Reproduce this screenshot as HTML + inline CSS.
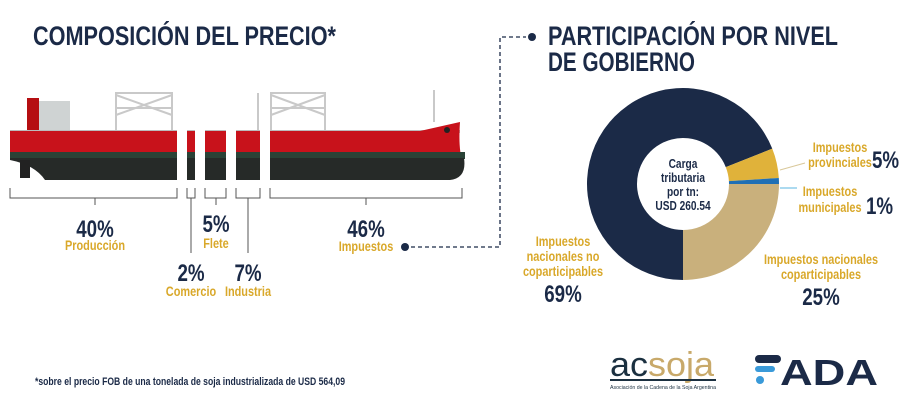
<!DOCTYPE html>
<html><head><meta charset="utf-8">
<style>
html,body{margin:0;padding:0;background:#fff;}
body{width:918px;height:400px;overflow:hidden;position:relative;font-family:"Liberation Sans",sans-serif;}
svg{position:absolute;left:0;top:0;}
.t{font-family:"Liberation Sans",sans-serif;font-weight:bold;}
</style></head>
<body>
<svg width="918" height="400" viewBox="0 0 918 400">
<defs>
<clipPath id="shipclip"><rect x="0" y="0" width="177" height="400"/><rect x="187" y="0" width="8" height="400"/><rect x="205" y="0" width="21" height="400"/><rect x="236" y="0" width="24" height="400"/><rect x="270" y="0" width="200" height="400"/></clipPath>
</defs>
<text class="t fix" x="33" y="45" font-size="27" fill="#1b2a47" textLength="303" lengthAdjust="spacingAndGlyphs">COMPOSICIÓN DEL PRECIO*</text>
<text class="t fix" x="548" y="45" font-size="27" fill="#1b2a47" textLength="290" lengthAdjust="spacingAndGlyphs">PARTICIPACIÓN POR NIVEL</text>
<text class="t fix" x="548" y="71" font-size="27" fill="#1b2a47" textLength="147" lengthAdjust="spacingAndGlyphs">DE GOBIERNO</text>

<g clip-path="url(#shipclip)">
 <rect x="10" y="130" width="450" height="3" fill="#bbb"/>
 <rect x="27" y="98" width="12" height="32" fill="#b50f12"/>
 <rect x="39" y="101" width="31" height="29" fill="#cfd3d3"/>
 <g stroke="#c9c9c9" stroke-width="2" fill="none">
  <path d="M116 130V93H172V130M116 95L172 115M172 95L116 115M116 108H172"/>
  <path d="M271 130V93H325V130M271 95L325 115M325 95L271 115M271 108H325"/>
  <path d="M258 130V93"/><path d="M434 122V90"/>
 </g>
 <path d="M10 131H420L460 122Q458 150 463 163L463 158H10Z" fill="#c8121b"/>
 <rect x="10" y="152" width="455" height="7" fill="#2a4236"/>
 <path d="M10 158H464Q467 178 450 180H45Q35 165 10 160Z" fill="#262a28"/>
 <rect x="20" y="160" width="10" height="18" fill="#222"/>
 <circle cx="447" cy="130" r="3" fill="#222"/>
</g>

<g stroke="#555" stroke-width="1" fill="none">
 <path d="M10 188V198H177V188M95 198V205"/>
 <path d="M187 188V198H195V188M191 198V253"/>
 <path d="M205 188V198H226V188M216 198V205"/>
 <path d="M236 188V198H260V188M248 198V253"/>
 <path d="M270 188V198H462V188M366 198V205"/>
</g>

<g class="t" text-anchor="middle">
 <text class="sq" x="95" y="237" font-size="24" fill="#1b2a47">40%</text>
 <text class="sq" x="95" y="250" font-size="14" fill="#d9a82a">Producción</text>
 <text class="sq" x="216" y="232" font-size="24" fill="#1b2a47">5%</text>
 <text class="sq" x="216" y="248" font-size="14" fill="#d9a82a">Flete</text>
 <text class="sq" x="191" y="281" font-size="24" fill="#1b2a47">2%</text>
 <text class="sq" x="191" y="296" font-size="14" fill="#d9a82a">Comercio</text>
 <text class="sq" x="248" y="281" font-size="24" fill="#1b2a47">7%</text>
 <text class="sq" x="248" y="296" font-size="14" fill="#d9a82a">Industria</text>
 <text class="sq" x="366" y="237" font-size="24" fill="#1b2a47">46%</text>
 <text class="sq" x="366" y="251" font-size="14" fill="#d9a82a">Impuestos</text>
</g>

<g>
 <circle cx="405" cy="247" r="4" fill="#1b2a47"/>
 <path d="M411 247H500V37H526" stroke="#1b2a47" stroke-width="1.3" stroke-dasharray="4,3" fill="none"/>
 <circle cx="532" cy="37" r="4" fill="#1b2a47"/>
</g>

<g id="donut"></g>

<g class="t">
 <text class="sq" x="683" y="168" font-size="13" text-anchor="middle" fill="#1b2a47">Carga</text>
 <text class="sq" x="683" y="182" font-size="13" text-anchor="middle" fill="#1b2a47">tributaria</text>
 <text class="sq" x="683" y="196" font-size="13" text-anchor="middle" fill="#1b2a47">por tn:</text>
 <text class="sq" x="683" y="210" font-size="13" text-anchor="middle" fill="#1b2a47">USD 260.54</text>
 <path d="M780 170L805 163" stroke="#d9c89a" stroke-width="1"/>
 <text class="sq" x="840" y="152" font-size="14" text-anchor="middle" fill="#d9a82a">Impuestos</text>
 <text class="sq" x="840" y="167" font-size="14" text-anchor="middle" fill="#d9a82a">provinciales</text>
 <text class="sq" x="872" y="168" font-size="24" fill="#1b2a47">5%</text>
 <path d="M780 188L797 188" stroke="#5ab4e0" stroke-width="1"/>
 <text class="sq" x="830" y="196" font-size="14" text-anchor="middle" fill="#d9a82a">Impuestos</text>
 <text class="sq" x="830" y="212" font-size="14" text-anchor="middle" fill="#d9a82a">municipales</text>
 <text class="sq" x="866" y="214" font-size="24" fill="#1b2a47">1%</text>
 <text class="sq" x="563" y="246" font-size="14" text-anchor="middle" fill="#d9a82a">Impuestos</text>
 <text class="sq" x="563" y="261" font-size="14" text-anchor="middle" fill="#d9a82a">nacionales no</text>
 <text class="sq" x="563" y="276" font-size="14" text-anchor="middle" fill="#d9a82a">coparticipables</text>
 <text class="sq" x="563" y="302" font-size="24" text-anchor="middle" fill="#1b2a47">69%</text>
 <text class="sq" x="821" y="264" font-size="14" text-anchor="middle" fill="#d9a82a">Impuestos nacionales</text>
 <text class="sq" x="821" y="279" font-size="14" text-anchor="middle" fill="#d9a82a">coparticipables</text>
 <text class="sq" x="821" y="305" font-size="24" text-anchor="middle" fill="#1b2a47">25%</text>
</g>

<text class="t fix" x="35" y="385" font-size="11" fill="#1b2a47" textLength="310" lengthAdjust="spacingAndGlyphs">*sobre el precio FOB de una tonelada de soja industrializada de USD 564,09</text>

<g>
 <text x="610" y="376" font-family="Liberation Sans,sans-serif" font-size="34" fill="#1b3040" textLength="38" lengthAdjust="spacingAndGlyphs">ac</text>
 <text x="648" y="376" font-family="Liberation Sans,sans-serif" font-size="34" fill="#c8a96a" textLength="66" lengthAdjust="spacingAndGlyphs">soja</text>
 <rect x="610" y="379" width="106" height="2" fill="#1b3040"/>
 <text x="610" y="389" font-family="Liberation Sans,sans-serif" font-size="5.5" fill="#1b3040" textLength="106" lengthAdjust="spacingAndGlyphs">Asociación de la Cadena de la Soja Argentina</text>
</g>
<g>
 <rect x="755" y="355" width="26" height="8" rx="4" fill="#1b2a47"/>
 <rect x="755" y="366" width="20" height="6" rx="3" fill="#3a9ad9"/>
 <circle cx="760" cy="380" r="4" fill="#3a9ad9"/>
 <text x="780" y="385" font-family="Liberation Sans,sans-serif" font-weight="bold" font-size="36" fill="#1b2a47" textLength="98" lengthAdjust="spacingAndGlyphs">ADA</text>
</g>
</svg>
<script>
const sliceNames = ["nacionales-no-coparticipables","provinciales","municipales","nacionales-coparticipables"];
const sliceValues = [69, 5, 1, 25];
const sliceColors = ["#1b2a47","#e0b23a","#1f6fb5","#c9b07c"];
(function(){
 const g=document.getElementById('donut');
 const cx=683,cy=184,R=96,r=46;
 const total=sliceValues.reduce((a,b)=>a+b,0);
 let a0=Math.PI;
 function pt(rad,a){return [cx+rad*Math.sin(a), cy-rad*Math.cos(a)];}
 sliceValues.forEach((v,i)=>{
  const a1=a0+v/total*2*Math.PI;
  const large=(a1-a0)>Math.PI?1:0;
  const p1=pt(R,a0),p2=pt(R,a1),p3=pt(r,a1),p4=pt(r,a0);
  const p=document.createElementNS('http://www.w3.org/2000/svg','path');
  p.setAttribute('d',`M${p1}A${R} ${R} 0 ${large} 1 ${p2}L${p3}A${r} ${r} 0 ${large} 0 ${p4}Z`);
  p.setAttribute('fill',sliceColors[i]);
  
  
  g.appendChild(p);
  a0=a1;
 });
 document.querySelectorAll('text.sq').forEach(t=>{
  const w=t.getComputedTextLength();
  t.setAttribute('textLength',(w*0.78).toFixed(1));
  t.setAttribute('lengthAdjust','spacingAndGlyphs');
 });
})();
</script>
</body></html>
